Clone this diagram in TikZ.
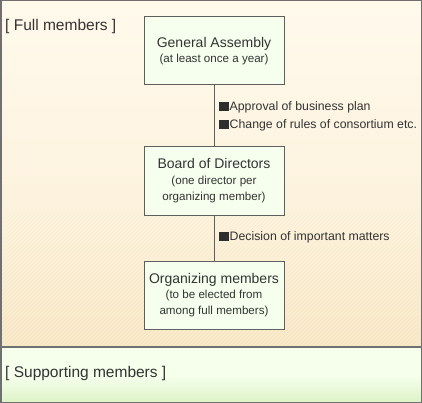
\documentclass[tikz,border=0pt]{standalone}
\usepackage{fontspec}
\setmainfont{Liberation Sans}
\definecolor{txt}{HTML}{333333}
\definecolor{frame}{HTML}{707070}
\definecolor{boxfill}{HTML}{F6FFEE}
\definecolor{creamtop}{HTML}{FFF9EA}
\definecolor{creambot}{HTML}{F7E6C2}
\definecolor{greentop}{HTML}{F6FFEC}
\definecolor{greenbot}{HTML}{DDF3C6}
\newcommand{\btitlefont}{\fontsize{14}{16}\selectfont}
\newcommand{\bsubfont}{\fontsize{11.6}{16}\selectfont}
\newcommand{\sqb}{{\color{txt!90!black}\rule[-0.5pt]{9.5pt}{9pt}}\hspace{1pt}}
\begin{document}
\begin{tikzpicture}[x=1pt,y=-1pt,
  orgbox/.style={draw=frame!85!black,line width=1pt,fill=boxfill,minimum width=140pt,minimum height=68pt,align=center,text=txt,inner sep=0pt,font=\bsubfont},
  note/.style={anchor=west,text=txt,font=\fontsize{12.3}{14}\selectfont,inner sep=0pt},
  grp/.style={anchor=west,text=txt,font=\fontsize{15.5}{18}\selectfont,inner sep=0pt},
  link/.style={draw=frame!85!black,line width=1pt}]
\useasboundingbox (0,0) rectangle (422,403);
% full members region
\shade[top color=creamtop,bottom color=creambot,middle color=creamtop!70!creambot] (0,0) rectangle (422,347);
\begin{scope}
\clip (0,0) rectangle (422,403);
\foreach \i in {-400,-396,...,440} {
  \draw[white,opacity=0.35,line width=0.6pt] (\i,403) -- (\i+403,0);
}
\end{scope}
% supporting region
\shade[top color=greentop,bottom color=greenbot,middle color=greentop] (0,347) rectangle (422,403);
\draw[frame,line width=1.3pt] (0,347) -- (422,347);
\draw[frame,line width=1.5pt] (0.75,0.75) rectangle (421.25,402.25);

\node[grp] (full) at (5,26) {[ Full members ]};
\node[grp] (supp) at (5,373) {[ Supporting members ]};

\node[orgbox] (ga) at (214,51) {\btitlefont General Assembly\\[-1pt]\bsubfont (at least once a year)};
\node[orgbox] (bd) at (214,181) {\btitlefont Board of Directors\\\bsubfont (one director per\\organizing member)};
\node[orgbox] (om) at (214,295) {\btitlefont Organizing members\\[-1pt]\bsubfont (to be elected from\\among full members)};

\draw[link] (ga.south) -- (bd.north);
\draw[link] (bd.south) -- (om.north);

\node[note] (n1) at (219,107) {\sqb Approval of business plan};
\node[note] (n2) at (219,125) {\sqb Change of rules of consortium etc.};
\node[note] (n3) at (219,237) {\sqb Decision of important matters};
\end{tikzpicture}
\end{document}
